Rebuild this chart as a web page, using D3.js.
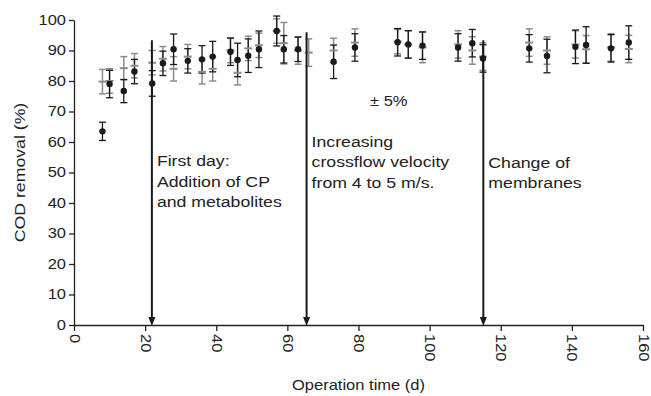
<!DOCTYPE html>
<html>
<head>
<meta charset="utf-8">
<script src="https://cdn.jsdelivr.net/npm/d3@7"></script>
<style>
  body { margin: 0; background: #fff; }
  text { font-family: "Liberation Sans", Arial, sans-serif; fill: #222; }
</style>
</head>
<body>
<div id="chart"></div>
<script>
// black series (circles)
var days = [8, 10, 14, 17, 22, 25, 28, 32, 36, 39, 44, 46, 49, 52, 57, 59, 63, 73, 79, 91, 94, 98, 108, 112, 115, 128, 133, 141, 144, 151, 156];
var cod = [63.5, 79, 76.7, 83.1, 79.2, 85.8, 90.4, 86.6, 87.1, 88, 89.6, 86.9, 88.3, 90.4, 96.4, 90.4, 90.4, 86.3, 91, 92.7, 92, 91.6, 91, 92.4, 87.4, 90.7, 88.2, 91.2, 91.8, 90.7, 92.6];
var codErr = [3, 4.5, 3.8, 4, 4.2, 4, 5, 4, 4.5, 5, 4.5, 5.5, 5.5, 6, 4.9, 4.5, 4, 5.5, 4.5, 4.5, 4.5, 4.5, 4.5, 4.5, 4.5, 4.5, 5.5, 5.5, 6, 4.5, 5.5];

// grey series (dash markers)
var daysG = [8, 10, 14, 17, 22, 25, 28, 32, 36, 39, 44, 46, 49, 52, 57, 59, 63, 66, 73, 79, 91, 94, 98, 108, 112, 115, 128, 133, 141, 144, 151, 156];
var codG = [79.8, 80, 84.2, 85, 86, 87.3, 84, 88, 83, 84, 90, 82.7, 90.7, 91.7, 96.4, 92.4, 90, 89.3, 90, 92.6, 92.9, 92, 91, 92, 90, 88, 92.6, 90, 92, 90.4, 91, 90.5];
var codGErr = [4, 4, 3.8, 4, 4, 4, 4, 4, 4, 4, 4, 4, 4, 4, 4, 6.8, 4.5, 4.5, 4, 4.5, 4, 4.5, 5, 4.5, 4.5, 4.5, 4.5, 4.5, 4.5, 4.5, 4.5, 4.5];

var arrowDays = [21.9, 65.4, 115.1];
var arrowTops = [93.4, 96, 93.4];
var notes = [
  ["First day:", "Addition of CP", "and metabolites"],
  ["Increasing", "crossflow velocity", "from 4 to 5 m/s."],
  ["Change of", "membranes"]
];
var noteTops = [52, 58.5, 51.5];

var xTicks = [0, 20, 40, 60, 80, 100, 120, 140, 160];
var yTicks = [0, 10, 20, 30, 40, 50, 60, 70, 80, 90, 100];

var width = 651, height = 396;
var SX = 1.18; // glyphs in the reference are wider than Arial

var svg = d3.select("#chart").append("svg")
            .attr("width", width)
            .attr("height", height);

var x = d3.scaleLinear().domain([0, 160]).range([74, 643]);
var y = d3.scaleLinear().domain([0, 100]).range([325, 20]);

// axes
var yAxis = svg.append("g")
               .attr("transform", "translate(" + x(0) + ",0)")
               .call(d3.axisLeft(y).tickValues(yTicks).tickSize(5).tickSizeOuter(0).tickPadding(3));

var xAxis = svg.append("g")
               .attr("transform", "translate(0," + y(0) + ")")
               .call(d3.axisBottom(x).tickValues(xTicks).tickSize(6).tickSizeOuter(0));

svg.selectAll(".domain, .tick line").attr("stroke", "#222").attr("stroke-width", 1.3);

yAxis.selectAll("text")
     .attr("font-size", "14px")
     .attr("fill", "#222")
     .attr("x", -8 / SX)
     .attr("transform", "scale(" + SX + ",1)");

xAxis.selectAll("text")
     .attr("font-size", "14px")
     .attr("fill", "#222")
     .attr("y", 0)
     .attr("x", 9 / SX)
     .attr("dy", "0.35em")
     .attr("text-anchor", "start")
     .attr("transform", "rotate(90) scale(" + SX + ",1)");

// error bars helper
function errorBars(xs, vs, es, color, sw) {
  var g = svg.append("g").attr("stroke", color).attr("stroke-width", sw);
  xs.forEach(function (d, i) {
    var lo = y(vs[i] - es[i]), hi = y(vs[i] + es[i]), cx = x(d);
    g.append("line").attr("x1", cx).attr("x2", cx).attr("y1", lo).attr("y2", hi);
    g.append("line").attr("x1", cx - 3.5).attr("x2", cx + 3.5).attr("y1", lo).attr("y2", lo);
    g.append("line").attr("x1", cx - 3.5).attr("x2", cx + 3.5).attr("y1", hi).attr("y2", hi);
  });
}

errorBars(daysG, codG, codGErr, "#8c8c8c", 1.5);
errorBars(days, cod, codErr, "#1a1a1a", 1.3);

svg.append("g").selectAll("line")
   .data(daysG)
   .enter().append("line")
   .attr("x1", function (d) { return x(d) - 4; })
   .attr("x2", function (d) { return x(d) + 4; })
   .attr("y1", function (d, i) { return y(codG[i]); })
   .attr("y2", function (d, i) { return y(codG[i]); })
   .attr("stroke", "#8c8c8c")
   .attr("stroke-width", 2);

svg.append("g").selectAll("circle")
   .data(days)
   .enter().append("circle")
   .attr("cx", function (d) { return x(d); })
   .attr("cy", function (d, i) { return y(cod[i]); })
   .attr("r", 3.2)
   .attr("fill", "#1a1a1a");

// arrows
arrowDays.forEach(function (d, i) {
  var ax = x(d);
  svg.append("line")
     .attr("x1", ax).attr("x2", ax)
     .attr("y1", y(arrowTops[i])).attr("y2", y(0) - 6)
     .attr("stroke", "#1a1a1a")
     .attr("stroke-width", 2);
  svg.append("path")
     .attr("d", "M" + (ax - 3.5) + "," + (y(0) - 8) + "L" + (ax + 3.5) + "," + (y(0) - 8) + "L" + ax + "," + (y(0) + 1) + "Z")
     .attr("fill", "#1a1a1a");
});

// notes
notes.forEach(function (lines, i) {
  lines.forEach(function (t, j) {
    svg.append("text")
       .attr("transform", "translate(" + (x(arrowDays[i]) + 5) + "," + (y(noteTops[i]) + j * 20.5) + ") scale(" + SX + ",1)")
       .attr("font-size", "15px")
       .text(t);
  });
});

svg.append("text")
   .attr("transform", "translate(370,106) scale(" + SX + ",1)")
   .attr("font-size", "14px")
   .text("± 5%");

// axis titles
svg.append("text")
   .attr("transform", "translate(" + x(80) + ",390) scale(" + SX + ",1)")
   .attr("text-anchor", "middle")
   .attr("font-size", "14px")
   .text("Operation time (d)");

svg.append("text")
   .attr("transform", "translate(25," + y(50) + ") rotate(-90) scale(" + SX + ",1)")
   .attr("text-anchor", "middle")
   .attr("font-size", "15px")
   .text("COD removal (%)");
</script>
</body>
</html>
